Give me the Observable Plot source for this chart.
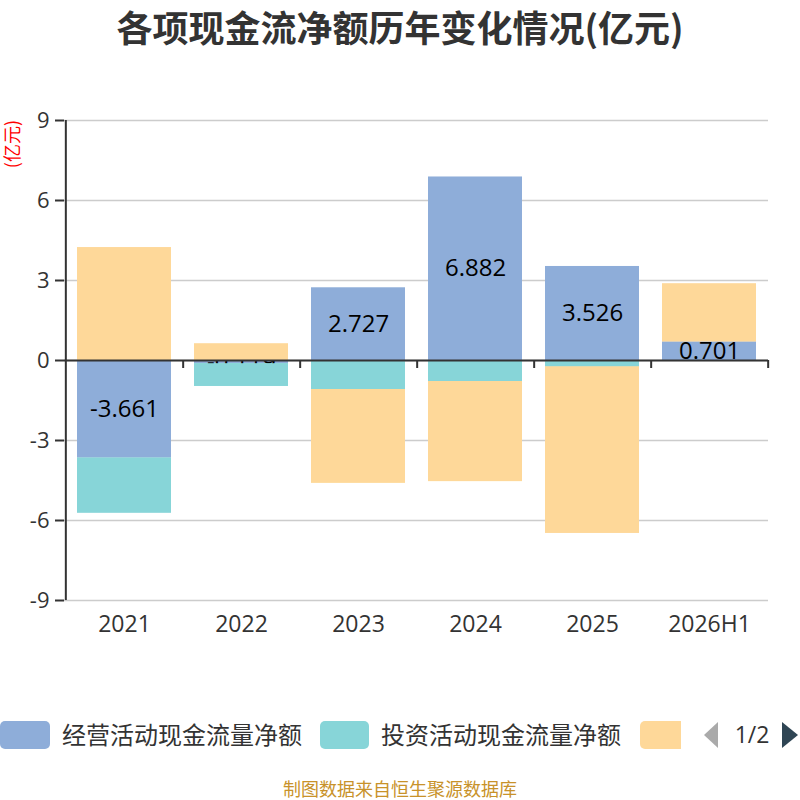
<!DOCTYPE html>
<html><head><meta charset="utf-8">
<script src="https://cdn.jsdelivr.net/npm/d3@7"></script>
<script src="https://cdn.jsdelivr.net/npm/@observablehq/plot@0.6"></script>
<style>
body{margin:0;background:#fff;font-family:"Noto Sans CJK SC","Noto Sans",sans-serif;}
#wrap{position:relative;width:800px;height:800px;overflow:hidden;background:#fff;}
#title{position:absolute;top:0;left:0;width:800px;text-align:center;font-size:36px;font-weight:bold;color:#333;line-height:52px;}
#unit{position:absolute;left:1px;top:120px;font-size:18px;line-height:20px;color:#f00;writing-mode:vertical-rl;text-orientation:sideways;transform:rotate(180deg);white-space:nowrap;}
#chart{position:absolute;top:60px;left:0;}
.sw{position:absolute;top:721px;height:28px;border-radius:5px;}
.lt{position:absolute;top:715px;font-size:24px;line-height:38px;color:#333;white-space:nowrap;}
#src{position:absolute;top:776px;left:0;width:800px;text-align:center;font-size:18px;line-height:24px;color:#c8922a;}
</style></head>
<body><div id="wrap">
<div id="title">各项现金流净额历年变化情况(亿元)</div>
<div id="unit">(亿元)</div>
<div id="chart"></div>
<div id="legend"></div>
<div id="src">制图数据来自恒生聚源数据库</div>
</div>
<script>
const years = ["2021","2022","2023","2024","2025","2026H1"];
const seriesNames = ["经营活动现金流量净额","投资活动现金流量净额","筹资活动现金流量净额"];
const operating = [-3.661, -0.119, 2.727, 6.882, 3.526, 0.701];
const investing = [-2.06, -0.85, -1.09, -0.79, -0.24, -0.02];
const financing = [4.23, 0.62, -3.51, -3.75, -6.24, 2.17];
const yTicks = [-9, -6, -3, 0, 3, 6, 9];
const colors = ["#8eadd9", "#87d5d8", "#fed899"];

const seriesValues = [operating, investing, financing];
const table = [];
years.forEach((yr, i) => {
  seriesNames.forEach((s, k) => table.push({year: yr, series: s, value: seriesValues[k][i]}));
});
const labelRows = years.map((yr, i) => ({year: yr, value: operating[i]}));

const W = 800, ML = 64, MR = 32;
const step = (W - ML - MR) / years.length;
const numFont = '"Open Sans","Noto Sans",sans-serif';

const chart = Plot.plot({
  width: W, height: 600,
  marginLeft: ML, marginRight: MR, marginTop: 60, marginBottom: 60,
  style: {fontFamily: numFont, color: "#333", background: "transparent"},
  x: {domain: years, paddingInner: 0.2, paddingOuter: 0.1, label: null},
  y: {domain: [-9, 9], label: null},
  color: {domain: seriesNames, range: colors},
  opacity: {domain: [0, 1], range: [0, 1]},
  marks: [
    Plot.gridY(yTicks, {stroke: "#ccc", strokeOpacity: 1, strokeWidth: 1.5}),
    Plot.barY(table, Plot.stackY({x: "year", y: "value", fill: "series"})),
    Plot.text(labelRows, {x: "year", y: d => d.value / 2, text: d => d.value.toFixed(3), fontSize: 24, fill: "#000", fontFamily: numFont}),
    Plot.barY(table, Plot.stackY({x: "year", y: "value", fill: "series", fillOpacity: d => d.series === seriesNames[0] ? 0 : 1})),
    Plot.ruleY([0], {stroke: "#333", strokeWidth: 2}),
    Plot.ruleX(years, {x: d => d, y1: 0, y2: -0.3, dx: step / 2, stroke: "#333", strokeWidth: 2}),
    Plot.ruleX([years[0]], {x: d => d, y1: -9, y2: 9, dx: -step / 2, stroke: "#333", strokeWidth: 2}),
    Plot.axisY(yTicks, {tickSize: 9, tickPadding: 6, fontSize: 22, stroke: "#333", strokeWidth: 2, fill: "#333", label: null, tickFormat: d => String(d)}),
    Plot.axisX({anchor: "bottom", tickSize: 0, tickPadding: 15, fontSize: 23, fill: "#333", label: null})
  ]
});
document.getElementById("chart").appendChild(chart);

// legend (paged, as in the reference)
const lg = document.getElementById("legend");
const items = [
  {sw: 0, swW: 50, tx: 62, color: colors[0], text: seriesNames[0]},
  {sw: 320, swW: 49, tx: 381, color: colors[1], text: seriesNames[1]},
  {sw: 640, swW: 41, tx: null, color: colors[2], text: null}
];
items.forEach(it => {
  const s = document.createElement("div");
  s.className = "sw"; s.style.left = it.sw + "px"; s.style.width = it.swW + "px"; s.style.background = it.color;
  if (!it.text) s.style.borderRadius = "5px 0 0 5px";
  lg.appendChild(s);
  if (it.text) {
    const t = document.createElement("div");
    t.className = "lt"; t.style.left = it.tx + "px"; t.textContent = it.text;
    lg.appendChild(t);
  }
});
const nav = document.createElementNS("http://www.w3.org/2000/svg", "svg");
nav.setAttribute("width", "110"); nav.setAttribute("height", "40");
nav.style.position = "absolute"; nav.style.left = "700px"; nav.style.top = "715px";
nav.innerHTML = '<polygon points="18,7 18,33 4,20" fill="#aaa"/>' +
  '<text x="52" y="28" font-size="23" fill="#333" text-anchor="middle" font-family="Open Sans, sans-serif">1/2</text>' +
  '<polygon points="82,7 82,33 98,20" fill="#2f4554"/>';
lg.appendChild(nav);
</script>
</body></html>
